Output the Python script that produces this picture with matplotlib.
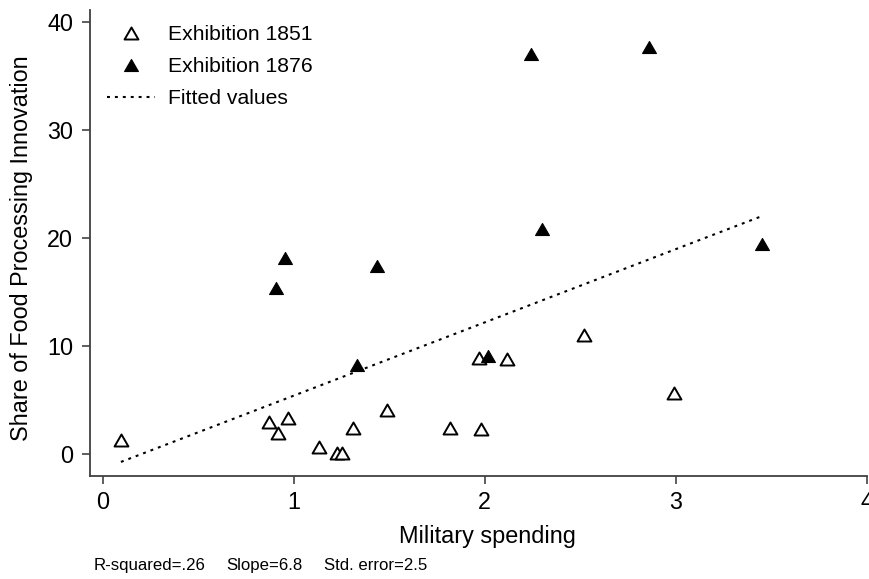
import numpy as np
import matplotlib
matplotlib.use("Agg")
import matplotlib.pyplot as plt
from matplotlib.path import Path

# ---- data ----
x_1851 = [0.094, 0.87, 0.917, 0.969, 1.13, 1.226, 1.252, 1.31, 1.49, 1.818, 1.98, 1.97, 2.116, 2.52, 2.99]
y_1851 = [1.30, 2.96, 1.94, 3.33, 0.65, 0.09, 0.09, 2.41, 4.07, 2.41, 2.31, 8.89, 8.80, 11.0, 5.65]
x_1876 = [0.906, 0.953, 1.435, 1.33, 2.017, 2.30, 2.24, 2.86, 3.45]
y_1876 = [15.37, 18.15, 17.4, 8.24, 9.07, 20.83, 37.0, 37.7, 19.44]
xticks = [0, 1, 2, 3, 4]
yticks = [0, 10, 20, 30, 40]
labels = ["Exhibition 1851", "Exhibition 1876", "Fitted values"]
note_items = ["R-squared=.26", "Slope=6.8", "Std. error=2.5"]

plt.rcParams['font.family'] = ['Liberation Sans', 'DejaVu Sans']

W, H = 869, 579
fig = plt.figure(figsize=(W / 100, H / 100), dpi=100)
L, R, B, T = 90, 867, 476, 10
ax = fig.add_axes([L / W, 1 - B / H, (R - L) / W, (B - T) / H])

tri = Path([(-1, -0.866), (1, -0.866), (0, 0.866), (-1, -0.866)],
           [Path.MOVETO, Path.LINETO, Path.LINETO, Path.CLOSEPOLY])

# fitted values over all points
all_x = np.array(x_1851 + x_1876)
all_y = np.array(y_1851 + y_1876)
slope, intercept = np.polyfit(all_x, all_y, 1)
fx = np.array([all_x.min(), all_x.max()])
fy = intercept + slope * fx

ax.plot(x_1851, y_1851, linestyle='none', marker=tri, markersize=10,
        markerfacecolor='white', markeredgecolor='black', markeredgewidth=1.4,
        label=labels[0], zorder=3)
ax.plot(x_1876, y_1876, linestyle='none', marker=tri, markersize=10,
        markerfacecolor='black', markeredgecolor='black', markeredgewidth=0.8,
        label=labels[1], zorder=3)
ax.plot(fx, fy, color='black', linewidth=1.5, linestyle=(0, (1.4, 2.4)),
        label=labels[2], zorder=2)

ax.set_xlim(-0.068, 4.002)
ax.set_ylim(-2.04, 41.1)
ax.set_xticks(xticks)
ax.set_yticks(yticks)
ax.tick_params(axis='both', direction='out', length=6, width=1.1, color='#333333',
               labelsize=16.8, pad=4.5)
ax.tick_params(axis='y', pad=6)
for s in ['top', 'right']:
    ax.spines[s].set_visible(False)
for s in ['left', 'bottom']:
    ax.spines[s].set_color('#404040')
    ax.spines[s].set_linewidth(1.3)

fig.text(487 / W, 1 - 543.5 / H, "Military spending", ha='center', va='baseline', fontsize=16.9)
fig.text(22 / W, 1 - 248 / H, "Share of Food Processing Innovation", ha='center',
         va='center', rotation=90, fontsize=16.8)

for txt, px in zip(note_items, [94, 226, 324]):
    fig.text(px / W, 1 - 570 / H, txt, ha='left', va='baseline', fontsize=12.1)

leg = ax.legend(loc='upper left', bbox_to_anchor=(107 / W, 1 - 25 / H),
                bbox_transform=fig.transFigure, frameon=False, fontsize=15.2,
                handlelength=2.27, handletextpad=0.62, labelspacing=0.62,
                borderpad=0, borderaxespad=0)

fig.savefig("out.png", dpi=100)
